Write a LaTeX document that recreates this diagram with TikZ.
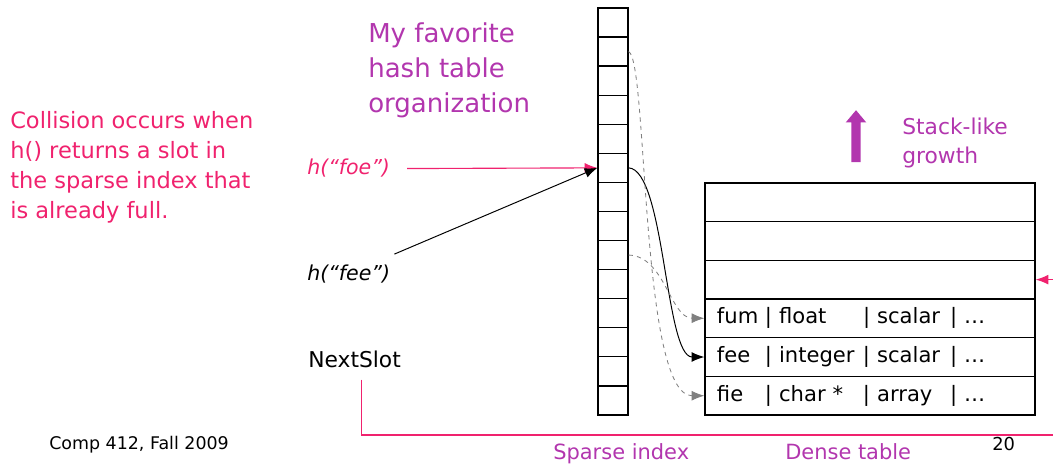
\documentclass[tikz,border=0pt]{standalone}
\usepackage{fontspec}
\setmainfont{DejaVu Sans}
\usepackage{tikz}
\usetikzlibrary{positioning,arrows.meta,shapes}
\definecolor{hotpink}{HTML}{F0226E}
\definecolor{slidepurple}{HTML}{B236AE}
\newcommand{\entry}[4]{\makebox[1.2cm][l]{#1}\makebox[2.45cm][l]{| #2}\makebox[2.175cm][l]{| #3}| #4}

\begin{document}
\begin{tikzpicture}[x=0.025cm, y=-0.025cm,
    slot/.style={rectangle, draw, line width=0.9pt, minimum width=0.75cm,
      minimum height=0.727cm, inner sep=0pt},
    rowbox/.style={rectangle, draw, line width=0.9pt, minimum height=0.967cm,
      text width=7.65cm, inner xsep=0.3cm, inner ysep=0pt, align=left,
      font=\fontsize{15}{17}\selectfont},
    pinktext/.style={text=hotpink, inner sep=0pt},
    purptext/.style={text=slidepurple, inner sep=0pt},
    pinkarr/.style={->, >={Latex[length=9pt,width=7pt]}, line width=0.8pt, color=hotpink},
    blkarr/.style={->, >={Latex[length=9pt,width=7pt]}, line width=0.7pt},
    grayarr/.style={->, >={Latex[length=9pt,width=7pt]}, line width=0.6pt, gray, dashed}
  ]
  \useasboundingbox (0,0) rectangle (1053,466);
  \foreach \i in {0,...,13}
    \node[slot] (s\i) at (613,22.5+29.07*\i) {};
  \foreach \i in {0,1,2}
    \node[rowbox] (d\i) at (870,202.3+38.67*\i) {};
  \node[rowbox] (d3) at (870,318.3) {\entry{fum}{float}{scalar}{…}};
  \node[rowbox] (d4) at (870,357) {\entry{fee}{integer}{scalar}{…}};
  \node[rowbox] (d5) at (870,395.7) {\entry{fie}{char *}{array}{…}};

  \node[pinktext, anchor=base west, align=left, font=\fontsize{16}{21.3}\selectfont]
    (collide) at (10,218) {Collision occurs when\\h() returns a slot in\\the sparse index that\\is already full.};
  \node[purptext, anchor=base west, align=left, font=\fontsize{18.5}{24.9}\selectfont]
    (title) at (368,113) {My favorite\\hash table\\organization};
  \node[pinktext, anchor=base west, font=\fontsize{14.6}{17}\itshape] (foe) at (307,175) {h(“foe”)};
  \node[anchor=base west, inner sep=0pt, font=\fontsize{14.6}{17}\itshape] (fee) at (307,280) {h(“fee”)};
  \node[anchor=base west, inner sep=0pt, font=\fontsize{15.5}{18}\selectfont] (next) at (308,367) {NextSlot};
  \node[purptext, anchor=base west, align=left, font=\fontsize{15.5}{20}\selectfont]
    (growth) at (902,163) {Stack-like\\growth};
  \node[single arrow, fill=slidepurple, draw=none, shape border rotate=90,
    minimum height=1.3cm, minimum width=0.5cm, inner sep=0.11cm,
    single arrow head extend=0.14cm, single arrow tip angle=80] (grow) at (856,139) {};
  \node[anchor=base west, inner sep=0pt, font=\fontsize{12.4}{15}\selectfont] (course) at (49,449) {Comp 412, Fall 2009};
  \node[anchor=base west, inner sep=0pt, font=\fontsize{12.7}{15}\selectfont] (page) at (992,450) {20};
  \node[purptext, anchor=base west, font=\fontsize{14.9}{18}\selectfont] (sparse) at (553,459) {Sparse index};
  \node[purptext, anchor=base west, font=\fontsize{14.9}{18}\selectfont] (dense) at (785,459) {Dense table};

  \draw[pinkarr] ([xshift=12]foe.east) -- (s5.west);
  \draw[blkarr] ([shift={(4,-10)}]fee.north east) -- (s5.west);
  \draw[blkarr] (s5.east) .. controls (665,170) and (665,357) .. (d4.west);
  \draw[grayarr] (s1.east) .. controls (648,60) and (640,396) .. (d5.west);
  \draw[grayarr] (s8.east) .. controls (665,256) and (670,318) .. (d3.west);
  \draw[pinkarr] ([shift={(7,12)}]next.south) |- (1070,435) |- (d2.east);
\end{tikzpicture}
\end{document}
